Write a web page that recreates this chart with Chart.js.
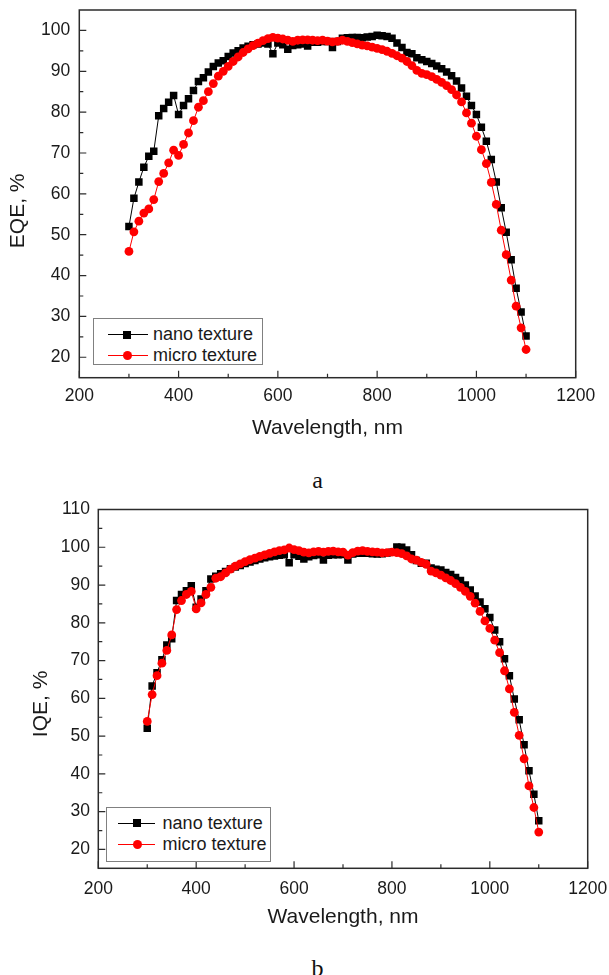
<!DOCTYPE html>
<html>
<head>
<meta charset="utf-8">
<title>EQE / IQE</title>
<script src="https://cdn.jsdelivr.net/npm/chart.js@4.4.1/dist/chart.umd.min.js"></script>
<style>
  body { margin: 0; background: #fff; width: 609px; height: 975px; position: relative; overflow: hidden; }
  .wrap { position: absolute; left: 0; width: 609px; }
  #wrapA { top: 0; height: 445px; }
  #wrapB { top: 496px; height: 438px; }
  .cap { position: absolute; left: 0; width: 635px; text-align: center; font-family: "Liberation Serif", "Times New Roman", serif; font-size: 24px; line-height: 24px; color: #111; }
  .legend { position: absolute; border: 1px solid #808080; background: #fff; font-family: "Liberation Sans", Arial, sans-serif; font-size: 18px; color: #1a1a1a; box-sizing: border-box; }
  .row { position: absolute; left: 0; height: 20px; line-height: 20px; white-space: nowrap; }
  .ln { position: absolute; top: 10px; height: 1px; }
  .mk { position: absolute; }
  .txt { position: absolute; top: 0; }
</style>
</head>
<body>
<div class="wrap" id="wrapA"><canvas id="eqe"></canvas></div>
<div class="cap" style="top:468px">a</div>
<div class="wrap" id="wrapB"><canvas id="iqe"></canvas></div>
<div class="cap" style="top:956px">b</div>

<script>
// wavelength, nm
const wavelength = [300, 310, 320, 330, 340, 350, 360, 370, 380, 390,
  400, 410, 420, 430, 440, 450, 460, 470, 480, 490,
  500, 510, 520, 530, 540, 550, 560, 570, 580, 590,
  600, 610, 620, 630, 640, 650, 660, 670, 680, 690,
  700, 710, 720, 730, 740, 750, 760, 770, 780, 790,
  800, 810, 820, 830, 840, 850, 860, 870, 880, 890,
  900, 910, 920, 930, 940, 950, 960, 970, 980, 990,
  1000, 1010, 1020, 1030, 1040, 1050, 1060, 1070, 1080, 1090, 1100];

// (a) EQE, %
const eqeNano = [52.0, 58.9, 62.9, 66.5, 69.2, 70.4, 79.1, 80.9, 82.4, 84.1,
  79.4, 81.6, 83.3, 85.3, 87.5, 88.4, 89.8, 91.2, 92.0, 92.6,
  93.6, 94.5, 95.0, 95.7, 96.1, 96.5, 96.7, 96.9, 96.7, 94.3,
  96.9, 96.5, 95.4, 96.3, 96.5, 96.7, 96.2, 97.1, 97.1, 97.3,
  97.3, 95.8, 97.3, 98.1, 98.2, 98.3, 98.3, 98.2, 98.4, 98.5,
  98.8, 98.7, 98.5, 98.1, 96.9, 95.8, 94.6, 94.3, 93.3, 92.8,
  92.4, 91.9, 91.3, 90.6, 89.8, 88.9, 87.6, 85.9, 83.9, 81.6,
  79.4, 76.3, 72.9, 68.4, 62.9, 56.6, 50.6, 43.9, 36.9, 31.1, 25.2];
const eqeMicro = [45.9, 50.7, 53.3, 55.3, 56.3, 58.6, 63.0, 65.0, 67.6, 70.7,
  69.4, 72.1, 74.9, 77.9, 81.2, 82.8, 85.0, 87.0, 88.8, 90.0,
  91.2, 92.4, 93.5, 94.6, 95.5, 96.3, 96.9, 97.5, 98.0, 98.3,
  98.1, 97.9, 97.6, 97.3, 97.6, 97.7, 97.7, 97.6, 97.5, 97.6,
  97.4, 97.2, 97.3, 97.6, 97.3, 97.0, 96.7, 96.4, 96.2, 95.9,
  95.6, 95.3, 94.9, 94.4, 93.8, 93.2, 92.4, 91.4, 90.2, 89.5,
  89.2, 88.7, 88.0, 87.3, 86.5, 85.5, 84.2, 82.5, 79.8, 77.3,
  74.1, 70.8, 67.4, 62.8, 57.4, 51.1, 45.1, 38.9, 32.5, 27.2, 21.9];

// (b) IQE, %
const iqeNano = [52.1, 63.3, 66.8, 70.2, 74.1, 75.8, 85.9, 87.5, 88.5, 89.8,
  84.1, 86.3, 88.5, 91.6, 92.3, 93.0, 93.6, 94.3, 94.8, 95.2,
  95.7, 96.1, 96.5, 96.9, 97.2, 97.5, 97.7, 97.9, 98.0, 95.9,
  98.0, 97.6, 96.9, 97.5, 97.8, 98.0, 96.6, 97.9, 98.0, 98.0,
  98.1, 96.6, 98.2, 98.4, 98.4, 98.4, 98.3, 98.2, 98.3, 98.5,
  98.7, 100.1, 100.0, 99.3, 98.0, 96.5, 95.8, 95.8, 94.5, 94.2,
  94.0, 93.3, 92.8, 92.0, 91.2, 90.0, 88.7, 87.1, 85.5, 83.7,
  81.4, 78.1, 75.0, 70.5, 66.0, 59.8, 54.3, 47.7, 40.8, 34.6, 27.6];
const iqeMicro = [53.9, 61.0, 66.0, 69.3, 72.7, 76.8, 83.5, 85.9, 87.5, 88.3,
  83.7, 85.3, 87.5, 89.4, 91.8, 92.2, 93.2, 94.2, 95.0, 95.6,
  96.2, 96.7, 97.1, 97.6, 98.0, 98.4, 98.8, 99.1, 99.3, 99.8,
  99.4, 99.1, 98.7, 98.5, 98.8, 98.9, 98.7, 98.9, 99.0, 98.8,
  98.7, 97.9, 98.6, 99.0, 99.1, 98.9, 98.8, 98.7, 98.5, 98.6,
  98.7, 98.6, 98.3, 97.7, 96.9, 96.6, 96.0, 95.5, 93.7, 93.2,
  92.6, 91.9, 91.2, 90.4, 89.4, 88.3, 87.0, 85.2, 83.0, 80.5,
  78.5, 75.4, 72.1, 67.3, 62.5, 56.3, 50.2, 44.0, 36.8, 31.1, 24.6];

const seriesNames = ['nano texture', 'micro texture'];
const xTicks = [200, 400, 600, 800, 1000, 1200];
const xMinor = [300, 500, 700, 900, 1100];
const eqeTicks = [20, 30, 40, 50, 60, 70, 80, 90, 100];
const eqeMinor = [25, 35, 45, 55, 65, 75, 85, 95];
const iqeTicks = [20, 30, 40, 50, 60, 70, 80, 90, 100, 110];
const iqeMinor = [25, 35, 45, 55, 65, 75, 85, 95, 105];

Chart.defaults.font.family = '"Liberation Sans", Arial, sans-serif';
Chart.defaults.color = '#1a1a1a';

// frame round the plot, inward major/minor ticks on left and bottom,
// and the y title (sits a bit below the middle of the axis, like the original)
const boxTicks = {
  id: 'boxTicks',
  afterDatasetsDraw(chart, args, o) {
    const {ctx, chartArea: a, scales} = chart;
    const x = scales.x, y = scales.y;
    ctx.save();
    ctx.strokeStyle = '#2b2b2b';
    ctx.lineWidth = 1.5;
    ctx.strokeRect(a.left, a.top, a.right - a.left, a.bottom - a.top);
    ctx.lineWidth = 1.2;
    ctx.beginPath();
    const tx = (v, len) => { const p = x.getPixelForValue(v); ctx.moveTo(p, a.bottom); ctx.lineTo(p, a.bottom - len); };
    const ty = (v, len) => { const p = y.getPixelForValue(v); ctx.moveTo(a.left, p); ctx.lineTo(a.left + len, p); };
    o.xMajor.forEach(v => tx(v, 7));
    o.xMinor.forEach(v => tx(v, 4));
    o.yMajor.forEach(v => ty(v, 7));
    o.yMinor.forEach(v => ty(v, 4));
    ctx.stroke();

    ctx.translate(o.yTitleX, (a.top + a.bottom) / 2 + o.yTitleShift);
    ctx.rotate(-Math.PI / 2);
    ctx.font = '21px "Liberation Sans", Arial, sans-serif';
    ctx.fillStyle = '#1a1a1a';
    ctx.textAlign = 'center';
    ctx.textBaseline = 'middle';
    ctx.fillText(o.yTitle, 0, 0);
    ctx.restore();
  }
};

const pts = vals => wavelength.map((w, i) => ({x: w, y: vals[i]}));

function makeChart(id, yTitle, nano, micro, yMax, yTicks, yMinor, g) {
  return new Chart(document.getElementById(id), {
    type: 'line',
    data: {
      datasets: [{
        label: seriesNames[0],
        data: pts(nano),
        borderColor: '#000',
        borderWidth: 1,
        pointStyle: 'rect',
        pointRadius: 5.3,
        pointBackgroundColor: '#000',
        pointBorderWidth: 0,
        order: 1
      }, {
        label: seriesNames[1],
        data: pts(micro),
        borderColor: '#ff0000',
        borderWidth: 1,
        pointStyle: 'circle',
        pointRadius: 4.4,
        pointBackgroundColor: '#ff0000',
        pointBorderWidth: 0,
        order: 0
      }]
    },
    options: {
      responsive: true,
      maintainAspectRatio: false,
      animation: false,
      layout: {padding: {top: g.padTop, right: g.padRight, left: 0, bottom: 0}},
      plugins: {
        legend: {display: false},
        tooltip: {enabled: false},
        boxTicks: {xMajor: xTicks, xMinor: xMinor, yMajor: yTicks, yMinor: yMinor,
          yTitle: yTitle, yTitleX: g.yTitleX, yTitleShift: g.yTitleShift}
      },
      scales: {
        x: {
          type: 'linear',
          min: 200,
          max: 1200,
          grid: {display: false, drawTicks: false},
          border: {display: false},
          afterBuildTicks: s => { s.ticks = xTicks.map(v => ({value: v})); },
          afterFit: s => { s.height = g.xHeight; s.paddingLeft = 0; s.paddingRight = 0; },
          ticks: {font: {size: 17.5}, padding: g.xTickPad, maxRotation: 0, callback: v => String(v)},
          title: {display: true, text: 'Wavelength, nm', font: {size: 21}, padding: {top: 4, bottom: 4}}
        },
        y: {
          type: 'linear',
          min: 15,
          max: yMax,
          grid: {display: false, drawTicks: false},
          border: {display: false},
          afterBuildTicks: s => { s.ticks = yTicks.map(v => ({value: v})); },
          afterFit: s => { s.width = g.yWidth; s.paddingTop = 0; s.paddingBottom = 0; },
          ticks: {font: {size: 17.5, lineHeight: 1}, padding: g.yTickPad, callback: v => String(v)}
        }
      }
    },
    plugins: [boxTicks]
  });
}

makeChart('eqe', 'EQE, %', eqeNano, eqeMicro, 105, eqeTicks, eqeMinor,
  {padTop: 10, padRight: 33.3, xHeight: 67.3, yWidth: 79.3, xTickPad: 8, yTickPad: 9, yTitleX: 18, yTitleShift: 17});
makeChart('iqe', 'IQE, %', iqeNano, iqeMicro, 110, iqeTicks, iqeMinor,
  {padTop: 13.5, padRight: 21.3, xHeight: 65.7, yWidth: 98.3, xTickPad: 10, yTickPad: 8.3, yTitleX: 41, yTitleShift: 15});

// legends drawn inside the plot frame, lower left
function legend(left, top, w, h, rows, lnLeft, lnW, mkX, txtX) {
  const box = document.createElement('div');
  box.className = 'legend';
  Object.assign(box.style, {left: left + 'px', top: top + 'px', width: w + 'px', height: h + 'px'});
  const styles = [{color: '#000', shape: 'sq'}, {color: '#ff0000', shape: 'ci'}];
  seriesNames.forEach((name, i) => {
    const row = document.createElement('div');
    row.className = 'row';
    row.style.top = (rows[i] - 10) + 'px';
    row.style.width = w + 'px';
    const ln = document.createElement('span');
    ln.className = 'ln';
    Object.assign(ln.style, {left: lnLeft + 'px', width: lnW + 'px', background: styles[i].color});
    const mk = document.createElement('span');
    mk.className = 'mk';
    const sz = styles[i].shape === 'sq' ? 8 : 9;
    Object.assign(mk.style, {left: (mkX - sz / 2) + 'px', top: (10.5 - sz / 2) + 'px', width: sz + 'px', height: sz + 'px',
      background: styles[i].color, borderRadius: styles[i].shape === 'ci' ? '50%' : '0'});
    const t = document.createElement('span');
    t.className = 'txt';
    t.style.left = txtX + 'px';
    t.textContent = name;
    row.append(ln, mk, t);
    box.appendChild(row);
  });
  document.body.appendChild(box);
}
legend(93, 318, 170, 47, [15.3, 36.3], 13.5, 40, 33, 59);
legend(106, 807, 165, 55, [14.7, 36.3], 10.8, 37, 30, 55.6);
</script>
</body>
</html>
